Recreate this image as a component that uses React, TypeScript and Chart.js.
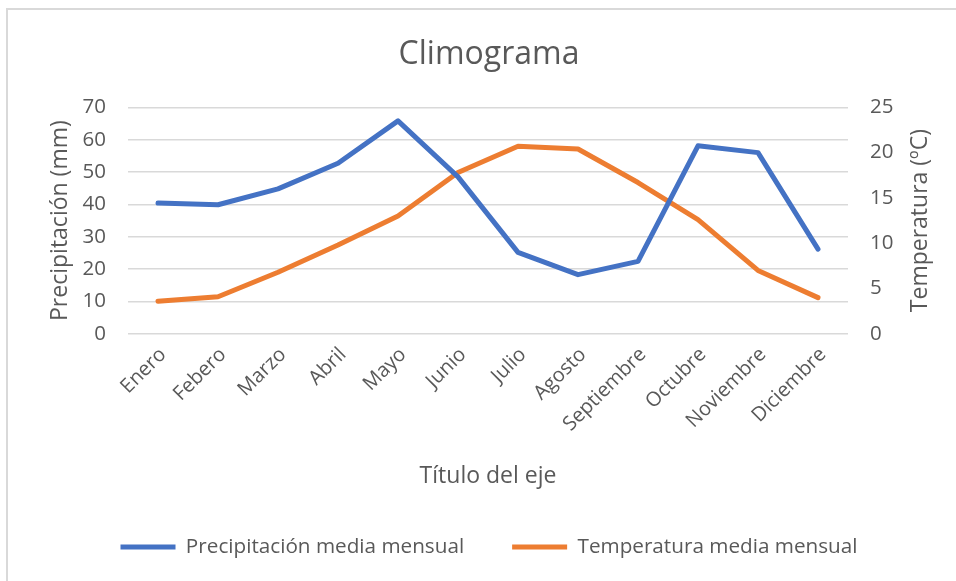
import React, { useEffect, useRef } from "react";
import { Chart, registerables } from "chart.js";

Chart.register(...registerables);

const months = [
  "Enero", "Febero", "Marzo", "Abril", "Mayo", "Junio",
  "Julio", "Agosto", "Septiembre", "Octubre", "Noviembre", "Diciembre",
];
const precipitation = [40.4, 39.9, 44.8, 52.7, 65.8, 48.5, 25.2, 18.3, 22.4, 58.1, 56.0, 26.2];
const temperature = [3.6, 4.1, 6.8, 9.8, 13.0, 17.8, 20.7, 20.4, 16.7, 12.6, 7.0, 4.0];
const precipAxis = { min: 0, max: 70, step: 10 };
const tempAxis = { min: 0, max: 25, step: 5 };

const FONT = "'Open Sans', 'DejaVu Sans', sans-serif";
const TEXT = "#595959";

const rightTitlePlugin = {
  id: "rightTitle",
  afterDraw(chart: any) {
    const s = chart.scales.y1;
    if (!s) return;
    const ctx = chart.ctx;
    ctx.save();
    ctx.translate(s.right - 11, (s.top + s.bottom) / 2);
    ctx.rotate(-Math.PI / 2);
    ctx.font = `23px ${FONT}`;
    ctx.fillStyle = TEXT;
    ctx.textAlign = "center";
    ctx.textBaseline = "middle";
    ctx.fillText("Temperatura (ºC)", 0, 0);
    ctx.restore();
  },
};

export default function App() {
  const ref = useRef<HTMLCanvasElement>(null);

  useEffect(() => {
    if (!ref.current) return;
    const chart = new Chart(ref.current, {
      type: "line",
      data: {
        labels: months,
        datasets: [
          {
            label: "Precipitación media mensual",
            data: precipitation,
            borderColor: "#4472C4",
            backgroundColor: "#4472C4",
            borderWidth: 5,
            borderCapStyle: "round",
            borderJoinStyle: "round",
            pointRadius: 0,
            pointHoverRadius: 0,
            tension: 0,
            yAxisID: "y",
          },
          {
            label: "Temperatura media mensual",
            data: temperature,
            borderColor: "#ED7D31",
            backgroundColor: "#ED7D31",
            borderWidth: 5,
            borderCapStyle: "round",
            borderJoinStyle: "round",
            pointRadius: 0,
            pointHoverRadius: 0,
            tension: 0,
            yAxisID: "y1",
          },
        ],
      },
      options: {
        animation: false,
        responsive: false,
        maintainAspectRatio: false,
        layout: { padding: { left: 47, right: 25, top: 0, bottom: 13.7 } },
        font: { family: FONT },
        color: TEXT,
        plugins: {
          title: {
            display: true,
            text: "Climograma",
            color: TEXT,
            font: { family: FONT, size: 32, weight: "normal" },
            padding: { top: 36, bottom: 32.9 },
          },
          legend: {
            position: "bottom",
            labels: {
              color: TEXT,
              font: { family: FONT, size: 20.7 },
              usePointStyle: true,
              pointStyle: "line",
              pointStyleWidth: 55,
              padding: 48,
            },
          },
          tooltip: { enabled: false },
        },
        scales: {
          x: {
            offset: true,
            grid: { display: false, offset: true },
            border: { display: false },
            ticks: {
              color: TEXT,
              font: { family: FONT, size: 20 },
              minRotation: 45,
              maxRotation: 45,
              autoSkip: false,
              padding: 1,
              labelOffset: 5,
            },
            title: {
              display: true,
              text: "Título del eje",
              color: TEXT,
              font: { family: FONT, size: 23 },
              padding: { top: 0, bottom: -2 },
            },
            afterFit(scale: any) {
              scale.height = 154.7;
            },
          },
          y: {
            position: "left",
            min: precipAxis.min,
            max: precipAxis.max,
            grid: { color: "#d9d9d9", lineWidth: 1.5, drawTicks: false },
            border: { display: false },
            ticks: {
              stepSize: precipAxis.step,
              color: TEXT,
              font: { family: FONT, size: 20.5 },
              padding: 22,
            },
            title: {
              display: true,
              text: "Precipitación (mm)",
              color: TEXT,
              font: { family: FONT, size: 23 },
              padding: 0,
            },
            afterFit(scale: any) {
              scale.width = 81;
            },
          },
          y1: {
            position: "right",
            min: tempAxis.min,
            max: tempAxis.max,
            grid: { display: false, drawTicks: false },
            border: { display: false },
            ticks: {
              stepSize: tempAxis.step,
              color: TEXT,
              font: { family: FONT, size: 20.5 },
              padding: 22,
            },
            afterFit(scale: any) {
              scale.width = 83;
            },
          },
        },
      } as any,
      plugins: [rightTitlePlugin],
    });
    return () => chart.destroy();
  }, []);

  return (
    <div
      style={{
        position: "fixed",
        left: 0,
        top: 0,
        width: 956,
        height: 581,
        overflow: "hidden",
        background: "#ffffff",
      }}
    >
      <div
        style={{
          position: "absolute",
          left: 6,
          top: 8,
          width: 1000,
          height: 1000,
          border: "2px solid #d9d9d9",
        }}
      />
      <canvas
        ref={ref}
        width={956}
        height={581}
        style={{ position: "absolute", left: 0, top: 0, width: 956, height: 581 }}
      />
    </div>
  );
}
